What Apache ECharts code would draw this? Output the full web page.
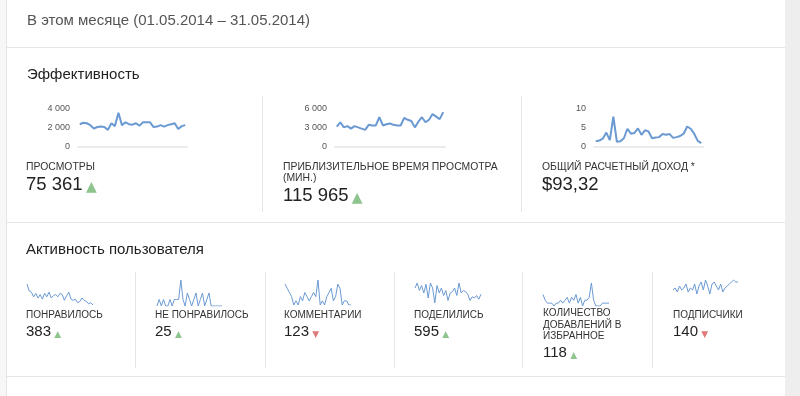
<!DOCTYPE html>
<html><head><meta charset="utf-8">
<script src="https://cdn.jsdelivr.net/npm/echarts@6/dist/echarts.min.js"></script>
<style>html,body{margin:0;padding:0;background:#fff}#c{width:800px;height:396px}</style>
</head><body><div id="c"></div>
<script>
const days = ['01.05','02.05','03.05','04.05','05.05','06.05','07.05','08.05','09.05','10.05','11.05','12.05','13.05','14.05','15.05','16.05','17.05','18.05','19.05','20.05','21.05','22.05','23.05','24.05','25.05','26.05','27.05','28.05','29.05','30.05','31.05'];
const views = [2400,2550,2500,2300,1950,2100,2150,2100,1800,2500,2200,3600,2300,2600,2400,2350,2500,2250,2600,2600,2600,2100,2150,2300,2150,2300,2400,2500,1900,2200,2300];
const watchTime = [3200,3900,3100,3300,2900,3300,3100,2900,2700,3500,3400,3400,4700,3400,3600,3700,3500,3400,3400,4600,4300,4100,3100,4000,4700,3900,4300,5200,4800,4400,5500];
const revenue = [1.5,1.7,2.2,3.8,1.8,8.0,1.4,1.5,2.3,4.8,3.5,3.7,4.9,3.2,4.4,4.1,2.3,2.5,2.6,3.4,3.2,3.4,2.4,2.6,2.9,3.5,5.4,4.8,3.5,1.6,1.0];
const likes = [22,16,15,11,14,10,13,9,14,11,15,10,12,13,11,14,13,8,12,15,9,8,9,6,7,10,8,7,5,6,4];
const dislikes = [0,1,0,1,0,0,1,0,1,1,1,4,1,0,2,1,0,1,2,0,1,2,0,1,2,0,0,0,0,0,0];
const comments = [6,5,4,3,1,2,1,3,2,4,3,2,3,4,3,7,1,2,1,3,4,5,2,3,6,5,1,2,2,1,1];
const shares = [22,26,20,24,18,25,14,26,22,10,24,18,22,16,20,12,18,19,22,16,26,18,20,19,17,12,15,14,16,13,17];
const favorites = [5,3,2,2,2,1,2,2,3,2,3,4,2,4,3,5,2,4,1,3,3,4,9,3,1,1,1,2,2,2,2];
const subscribers = [3,4,2,5,3,4,6,2,4,3,6,1,5,7,3,8,5,1,6,7,5,3,6,2,4,5,6,7,8,7,7];

const topMax = [4000, 6000, 10];
const topInterval = [2000, 3000, 5];
const topSeries = [views, watchTime, revenue];
const bottomSeries = [likes, dislikes, comments, shares, favorites, subscribers];

const FONT = '"Liberation Sans", Arial, sans-serif';
const BLUE = '#6b9ad3';
const SEP = '#e6e6e6';

const topGrids = [
  {left: 78, top: 109, width: 109, height: 38},
  {left: 335, top: 109, width: 110, height: 38},
  {left: 594, top: 109, width: 109, height: 38}
];
const bottomGrids = [
  {left: 27, top: 284, width: 66, height: 21},
  {left: 157, top: 280, width: 65, height: 26},
  {left: 285, top: 280, width: 66, height: 25},
  {left: 415, top: 283, width: 66, height: 20},
  {left: 543, top: 283, width: 66, height: 23},
  {left: 673, top: 280, width: 65, height: 14}
];

const grid = [], xAxis = [], yAxis = [], series = [];
const fmt = v => String(v).replace(/\B(?=(\d{3})+(?!\d))/g, ' ');
topGrids.forEach((g, i) => {
  grid.push(Object.assign({containLabel: false}, g));
  xAxis.push({type: 'category', gridIndex: i, data: days, boundaryGap: true,
    axisLine: {show: true, lineStyle: {color: '#ebebeb', width: 2}},
    axisTick: {show: false}, axisLabel: {show: false}, splitLine: {show: false}});
  yAxis.push({type: 'value', gridIndex: i, min: 0, max: topMax[i], interval: topInterval[i],
    axisLine: {show: false}, axisTick: {show: false}, splitLine: {show: false},
    axisLabel: {fontSize: 9, color: '#555', margin: 8, fontFamily: FONT, formatter: fmt}});
  series.push({type: 'line', xAxisIndex: i, yAxisIndex: i, data: topSeries[i], symbol: 'none',
    lineStyle: {color: BLUE, width: 2}, silent: true, animation: false});
});
bottomGrids.forEach((g, j) => {
  const i = j + 3;
  grid.push(Object.assign({containLabel: false}, g));
  xAxis.push({type: 'category', gridIndex: i, data: days, boundaryGap: false, show: false});
  yAxis.push({type: 'value', gridIndex: i, min: 'dataMin', max: 'dataMax', show: false, splitLine: {show: false}});
  series.push({type: 'line', xAxisIndex: i, yAxisIndex: i, data: bottomSeries[j], symbol: 'none',
    lineStyle: {color: BLUE, width: 1}, silent: true, animation: false});
});

function txt(x, y, text, size, color, extra) {
  return Object.assign({type: 'text', x: x, y: y, silent: true,
    style: {text: text, fontSize: size, fill: color, fontFamily: FONT, verticalAlign: 'middle', align: 'left'}}, extra || {});
}
function num(x, y, value, size, up, triSize) {
  return {type: 'text', x: x, y: y, silent: true, style: {
    text: '{n|' + value + '} {t|' + (up ? '▲' : '▼') + '}', verticalAlign: 'middle', align: 'left',
    rich: {
      n: {fontSize: size, fill: '#222', fontFamily: FONT},
      t: {fontSize: triSize, fill: up ? '#8ec58e' : '#e07b7b', fontFamily: '"DejaVu Sans", sans-serif', verticalAlign: 'bottom'}
    }}};
}
function hline(y, x1, x2) { return {type: 'line', silent: true, shape: {x1: x1, y1: y, x2: x2, y2: y}, style: {stroke: SEP, lineWidth: 1}}; }
function vline(x, y1, y2) { return {type: 'line', silent: true, shape: {x1: x, y1: y1, x2: x, y2: y2}, style: {stroke: SEP, lineWidth: 1}}; }

const graphic = [
  {type: 'rect', shape: {x: 0, y: 0, width: 7, height: 396}, style: {fill: '#f7f7f7'}, silent: true, z: -10},
  {type: 'rect', shape: {x: 785, y: 0, width: 15, height: 396}, style: {fill: '#eeeeee'}, silent: true, z: -10},
  vline(6.5, 0, 396),
  hline(47.5, 7, 785),
  hline(222.5, 7, 785),
  hline(376.5, 7, 785),
  vline(262.5, 96, 212), vline(521.5, 96, 212),
  vline(135.5, 272, 368), vline(265.5, 272, 368), vline(394.5, 272, 368), vline(522.5, 272, 368), vline(652.5, 272, 368),
  txt(27, 21, 'В этом месяце (01.05.2014 – 31.05.2014)', 15, '#555'),
  txt(27, 75, 'Эффективность', 15, '#222'),
  txt(26, 250, 'Активность пользователя', 15, '#222'),
  txt(26, 167, 'ПРОСМОТРЫ', 10.4, '#333'),
  num(26, 185, '75 361', 18.5, true, 14),
  txt(283, 167, 'ПРИБЛИЗИТЕЛЬНОЕ ВРЕМЯ ПРОСМОТРА', 10.4, '#333'),
  txt(283, 178, '(МИН.)', 10.4, '#333'),
  txt(542, 167, 'ОБЩИЙ РАСЧЕТНЫЙ ДОХОД *', 10.4, '#333'),
  num(283, 195.5, '115 965', 18.5, true, 14),
  txt(542, 184.5, '$93,32', 18.5, '#222'),
  txt(26, 315, 'ПОНРАВИЛОСЬ', 10, '#333'),
  num(26, 332, '383', 15, true, 9),
  txt(155, 315, 'НЕ ПОНРАВИЛОСЬ', 10, '#333'),
  num(155, 332, '25', 15, true, 9),
  txt(284, 315, 'КОММЕНТАРИИ', 10, '#333'),
  num(284, 332, '123', 15, false, 9),
  txt(414, 315, 'ПОДЕЛИЛИСЬ', 10, '#333'),
  num(414, 332, '595', 15, true, 9),
  txt(543, 313.5, 'КОЛИЧЕСТВО', 10, '#333'),
  txt(543, 325, 'ДОБАВЛЕНИЙ В', 10, '#333'),
  txt(543, 336.5, 'ИЗБРАННОЕ', 10, '#333'),
  num(543, 352.5, '118', 15, true, 9),
  txt(673, 315, 'ПОДПИСЧИКИ', 10, '#333'),
  num(673, 332, '140', 15, false, 9)
];

const chart = echarts.init(document.getElementById('c'), null, {renderer: 'canvas'});
chart.setOption({animation: false, backgroundColor: '#fff', grid, xAxis, yAxis, series, graphic});
</script></body></html>
